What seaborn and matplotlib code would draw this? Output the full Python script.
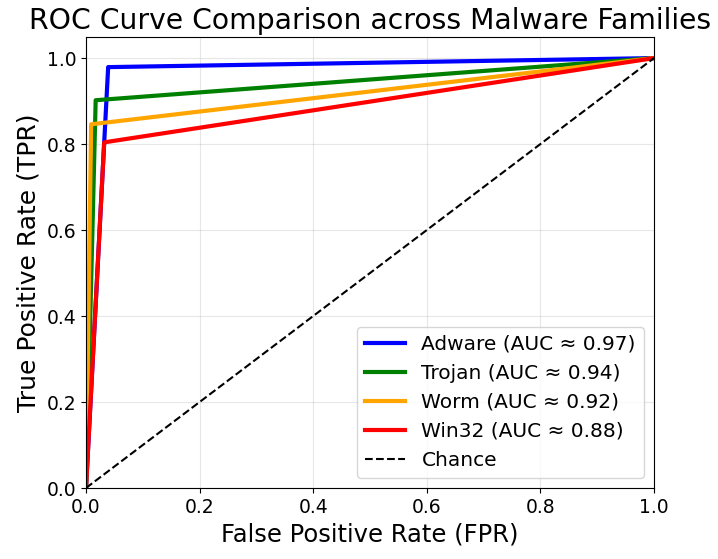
import matplotlib
matplotlib.use("Agg")
import matplotlib.pyplot as plt
import seaborn as sns
import pandas as pd

families = ["Adware", "Trojan", "Worm", "Win32"]
aucs = [0.97, 0.94, 0.92, 0.88]
fpr_points = [[0.0, 0.039, 1.0], [0.0, 0.017, 1.0], [0.0, 0.009, 1.0], [0.0, 0.032, 1.0]]
tpr_points = [[0.0, 0.979, 1.0], [0.0, 0.902, 1.0], [0.0, 0.846, 1.0], [0.0, 0.804, 1.0]]
colors = ["blue", "green", "orange", "red"]

rows = []
for fam, auc, fx, ty in zip(families, aucs, fpr_points, tpr_points):
    label = f"{fam} (AUC ≈ {auc:.2f})"
    for i, (x, y) in enumerate(zip(fx, ty)):
        rows.append({"label": label, "FPR": x, "TPR": y, "order": i})
df = pd.DataFrame(rows)

plt.rcParams["font.family"] = ["DejaVu Sans"]
fig = plt.figure(figsize=(7.18, 5.59), dpi=100)
ax = fig.add_axes([0.1198, 0.127, 0.791, 0.806])

labels = [f"{f} (AUC ≈ {a:.2f})" for f, a in zip(families, aucs)]
sns.lineplot(data=df, x="FPR", y="TPR", hue="label", hue_order=labels,
             palette=colors, sort=False, estimator=None, linewidth=3, ax=ax)
chance = pd.DataFrame({"x": [0, 1], "y": [0, 1]})
sns.lineplot(data=chance, x="x", y="y", color="black", linestyle="--",
             linewidth=1.5, label="Chance", ax=ax)

ax.set_xlim(0, 1)
ax.set_ylim(0, 1.048)
ax.set_xticks([0, 0.2, 0.4, 0.6, 0.8, 1.0])
ax.set_yticks([0, 0.2, 0.4, 0.6, 0.8, 1.0])
ax.tick_params(labelsize=13.5)
ax.grid(True, alpha=0.3)
ax.set_xlabel("False Positive Rate (FPR)", fontsize=17.5)
ax.set_ylabel("True Positive Rate (TPR)", fontsize=18)
ax.set_title("ROC Curve Comparison across Malware Families", fontsize=20.3)
ax.legend(loc="lower right", fontsize=14.5)

fig.savefig("out.png", dpi=100)
